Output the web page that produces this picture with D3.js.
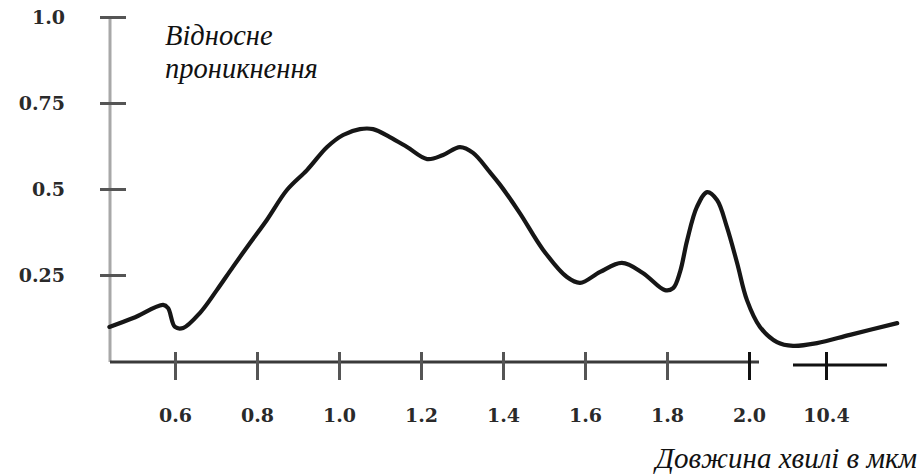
<!DOCTYPE html>
<html><head><meta charset="utf-8">
<script src="https://cdn.jsdelivr.net/npm/d3@7"></script>
<style>
html,body{margin:0;padding:0;background:#fff;}
svg{display:block;}
</style></head>
<body>
<svg id="chart" width="918" height="474"></svg>
<script>
// ---- data ----
const wavelength = [0.44,0.498,0.571,0.583,0.60,0.62,0.661,0.702,0.741,0.783,0.824,0.873,0.922,0.971,1.01,1.051,1.083,1.124,1.166,1.215,1.254,1.295,1.327,1.368,1.393,1.441,1.498,1.556,1.588,1.637,1.69,1.741,1.795,1.815,1.832,1.849,1.873,1.898,1.922,1.946,1.971,1.995,3.2,5.05,6.8,9.42,10.7,11.29];
const transmission = [0.099,0.125,0.163,0.154,0.099,0.096,0.14,0.206,0.273,0.343,0.41,0.497,0.555,0.622,0.657,0.674,0.674,0.651,0.622,0.587,0.599,0.622,0.605,0.549,0.512,0.43,0.323,0.244,0.227,0.259,0.285,0.256,0.206,0.212,0.26,0.35,0.448,0.491,0.468,0.39,0.285,0.177,0.099,0.055,0.044,0.052,0.076,0.11];
const xTickValues = [0.6,0.8,1.0,1.2,1.4,1.6,1.8,2.0,10.4];
const xTickLabels = ["0.6","0.8","1.0","1.2","1.4","1.6","1.8","2.0","10.4"];
const yTickValues = [0.25,0.5,0.75,1.0];
const yTickLabels = ["0.25","0.5","0.75","1.0"];
const yTitleLines = ["Відносне","проникнення"];
const xTitle = "Довжина хвилі в мкм";

// ---- layout ----
const svg = d3.select("#chart");
const axisX = 110, baseY = 362, topY = 17;
const xScale = d3.scaleLinear().domain([0.6, 2.0, 10.4, 11.2]).range([175, 749, 826, 890]);
const yScale = d3.scaleLinear().domain([0, 1]).range([361, topY]);
const labelFont = "'DejaVu Serif', serif";
const titleFont = "'Liberation Serif', 'Times New Roman', serif";

// y axis line
svg.append("line").attr("x1", axisX).attr("x2", axisX).attr("y1", topY).attr("y2", baseY)
  .attr("stroke", "#a8a8a8").attr("stroke-width", 3);
// y ticks
const yAxis = d3.axisLeft(yScale).tickValues(yTickValues).tickFormat((d,i)=>yTickLabels[i]).tickSize(0).tickPadding(45);
const gy = svg.append("g").attr("transform", `translate(${axisX},0)`).call(yAxis);
gy.select(".domain").remove();
gy.selectAll(".tick line").attr("x1", -10).attr("x2", 16).attr("stroke", "#555").attr("stroke-width", 3);
gy.selectAll(".tick text").attr("font-family", labelFont).attr("font-weight", "bold")
  .attr("font-size", 19).attr("fill", "#2a2a2a");

// x axis line (main + broken segment)
svg.append("line").attr("x1", axisX).attr("x2", xScale(2.0) + 10).attr("y1", baseY).attr("y2", baseY)
  .attr("stroke", "#3a3a3a").attr("stroke-width", 3);
svg.append("line").attr("x1", xScale(10.4) - 33).attr("x2", xScale(10.4) + 61).attr("y1", baseY + 3).attr("y2", baseY + 3)
  .attr("stroke", "#111").attr("stroke-width", 3);
const xAxis = d3.axisBottom(xScale).tickValues(xTickValues).tickFormat((d,i)=>xTickLabels[i]).tickSize(0).tickPadding(60);
const gx = svg.append("g").attr("transform", `translate(0,${baseY})`).call(xAxis);
gx.select(".domain").remove();
gx.selectAll(".tick line").attr("y1", -10).attr("y2", 18).attr("stroke", (d)=> d >= 2.0 ? "#111" : "#555").attr("stroke-width", 3);
gx.selectAll(".tick text").attr("font-family", labelFont).attr("font-weight", "bold")
  .attr("font-size", 19).attr("fill", "#2a2a2a").attr("dy", "0");

// curve
const pts = wavelength.map((w,i)=>[w, transmission[i]]);
const line = d3.line().x(d=>xScale(d[0])).y(d=>yScale(d[1])).curve(d3.curveCatmullRom.alpha(0.5));
svg.append("path").datum(pts).attr("d", line).attr("fill", "none")
  .attr("stroke", "#161616").attr("stroke-width", 4.2).attr("stroke-linejoin", "round").attr("stroke-linecap", "round");

// titles
const tt = svg.append("text").attr("x", 165).attr("y", 45)
  .attr("font-family", titleFont).attr("font-style", "italic")
  .attr("font-size", 28.5).attr("fill", "#111");
yTitleLines.forEach((s,i)=>tt.append("tspan").attr("x", 165).attr("dy", i ? 33 : 0).text(s));
svg.append("text").attr("x", 917).attr("y", 468).attr("text-anchor", "end")
  .attr("font-family", titleFont).attr("font-style", "italic")
  .attr("font-size", 29).attr("fill", "#111").text(xTitle);
</script>
</body></html>
